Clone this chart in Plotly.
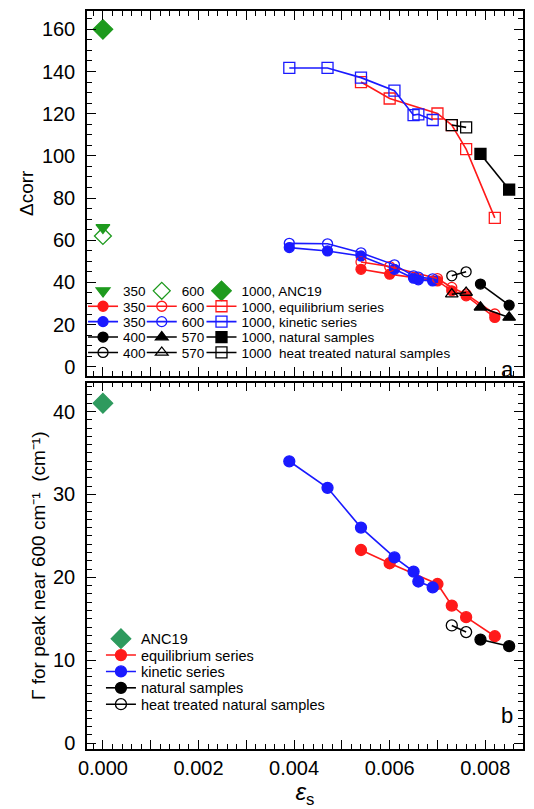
import plotly.graph_objects as go

# ---------------- data ----------------
# strain eps_s
x_anc = [0.0]
x_kin = [0.0039, 0.0047, 0.0054, 0.0061, 0.0065, 0.0066, 0.0069]
x_eq = [0.0054, 0.0060, 0.0070, 0.0073, 0.0076, 0.0082]
x_nat = [0.0079, 0.0085]
x_heat = [0.0073, 0.0076]

# panel a: Delta corr
anc_350 = [66.0]
anc_600 = [62.0]
anc_1000 = [160.0]
eq_350 = [46.2, 43.9, 40.7, 36.0, 33.6, 23.4]
eq_600 = [49.7, 47.5, 41.8, 37.6, 34.4, 25.0]
eq_1000 = [135.0, 127.2, 120.1, 114.6, 103.2, 70.6]
kin_350 = [56.5, 54.9, 52.5, 46.2, 42.0, 41.2, 40.7]
kin_600 = [58.5, 58.3, 54.0, 48.3, 43.1, 42.5, 41.7]
kin_1000 = [141.7, 141.7, 137.1, 130.9, 119.3, 119.7, 117.0]
nat_400 = [39.2, 29.2]
nat_570 = [28.2, 23.4]
nat_1000 = [100.9, 84.0]
heat_400 = [43.1, 45.0]
heat_570 = [34.4, 35.2]
heat_1000 = [114.6, 113.5]

# panel b: Gamma for peak near 600 cm-1
gam_anc = [41.0]
gam_eq = [23.3, 21.7, 19.2, 16.6, 15.2, 12.9]
gam_kin = [34.0, 30.8, 26.0, 22.4, 20.7, 19.5, 18.8]
gam_nat = [12.5, 11.7]
gam_heat = [14.2, 13.4]

# ---------------- styles ----------------
RED = "#FF1A1A"
BLUE = "#1A1AFF"
BLACK = "#000000"
GREEN = "#1E9A1E"
GREEN_B = "#2E9A5E"
FONT = "Liberation Sans"

# legend layout (paper coords): 3 columns x 5 rows in panel a, 5 rows in panel b
COL_X = [-0.0091, 0.1256, 0.2626]
ROW_Y = [0.6205, 0.5996, 0.5788, 0.5579, 0.5370]
B_X = 0.032
B_ROW_Y = [0.1494, 0.1272, 0.1050, 0.0828, 0.0606]

fig = go.Figure()
legends = {}
counter = [0]


def new_legend(x, y, size):
    counter[0] += 1
    lid = "legend" if counter[0] == 1 else "legend%d" % counter[0]
    legends[lid] = dict(x=x, y=y, xanchor="left", yanchor="middle",
                        bgcolor="rgba(0,0,0,0)", borderwidth=0,
                        font=dict(size=size, color="black", family=FONT),
                        itemwidth=30, tracegroupgap=0)
    return lid


def add(x, y, name, color, symbol, size, lx, ly, mode="lines+markers",
        xa="x", ya="y", lw=1.6, mlw=1.3, fsize=13.5):
    lid = new_legend(lx, ly, fsize)
    fig.add_trace(go.Scatter(
        x=x, y=y, name=name, mode=mode, legend=lid,
        xaxis=xa, yaxis=ya,
        line=dict(color=color, width=lw),
        marker=dict(symbol=symbol, size=size, color=color,
                    line=dict(color=color, width=mlw)),
    ))


# panel a, legend column 1
add(x_anc, anc_350, "350", GREEN, "triangle-down", 12, COL_X[0], ROW_Y[0], mode="markers")
add(x_eq, eq_350, "350", RED, "circle", 10, COL_X[0], ROW_Y[1])
add(x_kin, kin_350, "350", BLUE, "circle", 10, COL_X[0], ROW_Y[2])
add(x_nat, nat_400, "400", BLACK, "circle", 10, COL_X[0], ROW_Y[3])
add(x_heat, heat_400, "400", BLACK, "circle-open", 10, COL_X[0], ROW_Y[4])
# column 2
add(x_anc, anc_600, "600", GREEN, "diamond-open", 13, COL_X[1], ROW_Y[0], mode="markers")
add(x_eq, eq_600, "600", RED, "circle-open", 10, COL_X[1], ROW_Y[1])
add(x_kin, kin_600, "600", BLUE, "circle-open", 10, COL_X[1], ROW_Y[2])
add(x_nat, nat_570, "570", BLACK, "triangle-up", 11, COL_X[1], ROW_Y[3])
add(x_heat, heat_570, "570", BLACK, "triangle-up-open", 11, COL_X[1], ROW_Y[4])
# column 3
add(x_anc, anc_1000, "1000, ANC19", GREEN, "diamond", 15, COL_X[2], ROW_Y[0], mode="markers")
add(x_eq, eq_1000, "1000, equilibrium series", RED, "square-open", 11, COL_X[2], ROW_Y[1])
add(x_kin, kin_1000, "1000, kinetic series", BLUE, "square-open", 11, COL_X[2], ROW_Y[2])
add(x_nat, nat_1000, "1000, natural samples", BLACK, "square", 11, COL_X[2], ROW_Y[3])
add(x_heat, heat_1000, "1000  heat treated natural samples", BLACK, "square-open", 11,
    COL_X[2], ROW_Y[4])

# panel b
add(x_anc, gam_anc, "ANC19", GREEN_B, "diamond", 15, B_X, B_ROW_Y[0], mode="markers",
    xa="x2", ya="y2", fsize=14.5)
add(x_eq, gam_eq, "equilibrium series", RED, "circle", 11, B_X, B_ROW_Y[1],
    xa="x2", ya="y2", fsize=14.5)
add(x_kin, gam_kin, "kinetic series", BLUE, "circle", 11, B_X, B_ROW_Y[2],
    xa="x2", ya="y2", fsize=14.5)
add(x_nat, gam_nat, "natural samples", BLACK, "circle", 11, B_X, B_ROW_Y[3],
    xa="x2", ya="y2", fsize=14.5)
add(x_heat, gam_heat, "heat treated natural samples", BLACK, "circle-open", 11, B_X,
    B_ROW_Y[4], xa="x2", ya="y2", fsize=14.5)

# ---------------- layout ----------------
XR = [-0.000333, 0.00879]
common_x = dict(range=XR, tick0=0, dtick=0.001, ticklabelstep=2, tickformat=".3f",
                ticks="inside", ticklen=9, tickwidth=1.2, tickcolor="black",
                minor=dict(dtick=0.0002, tick0=0, ticks="inside", ticklen=5,
                           tickwidth=1, tickcolor="black"),
                showline=True, linecolor="black", linewidth=1.5, mirror="allticks",
                showgrid=False, zeroline=False,
                tickfont=dict(size=20, color="black", family=FONT))

common_y = dict(ticks="inside", ticklen=9, tickwidth=1.2, tickcolor="black",
                showline=True, linecolor="black", linewidth=1.5, mirror="allticks",
                showgrid=False, zeroline=False, ticklabelstandoff=6,
                tickfont=dict(size=20, color="black", family=FONT))

fig.update_layout(
    width=534, height=809,
    margin=dict(l=87, r=9, t=10, b=56),
    paper_bgcolor="white", plot_bgcolor="white",
    font=dict(family=FONT, color="black"),
    xaxis=dict(domain=[0, 1], anchor="y", showticklabels=False, **common_x),
    yaxis=dict(domain=[0.506, 1.0], anchor="x", range=[-4.2, 168.7],
               dtick=20, minor=dict(dtick=5, ticks="inside", ticklen=5,
                                    tickwidth=1, tickcolor="black"),
               title=dict(text="Δcorr", font=dict(size=19, family=FONT), standoff=3),
               **common_y),
    xaxis2=dict(domain=[0, 1], anchor="y2",
                title=dict(text="<i>ε</i><sub>s</sub>", font=dict(size=24, family=FONT),
                           standoff=4),
                **common_x),
    yaxis2=dict(domain=[0.0, 0.4966], anchor="x2", range=[-0.7, 43.5],
                dtick=10, minor=dict(dtick=1, ticks="inside", ticklen=5,
                                     tickwidth=1, tickcolor="black"),
                title=dict(text="Γ for peak near 600 cm⁻¹  (cm⁻¹)",
                           font=dict(size=19, family=FONT), standoff=2),
                **common_y),
    annotations=[
        dict(text="a", x=0.9635, y=0.5141, xref="paper", yref="paper",
             xanchor="center", yanchor="middle", showarrow=False,
             font=dict(size=22, family=FONT, color="black")),
        dict(text="b", x=0.9635, y=0.0458, xref="paper", yref="paper",
             xanchor="center", yanchor="middle", showarrow=False,
             font=dict(size=22, family=FONT, color="black")),
    ],
    showlegend=True,
    **legends,
)

fig.write_html("out.html")
